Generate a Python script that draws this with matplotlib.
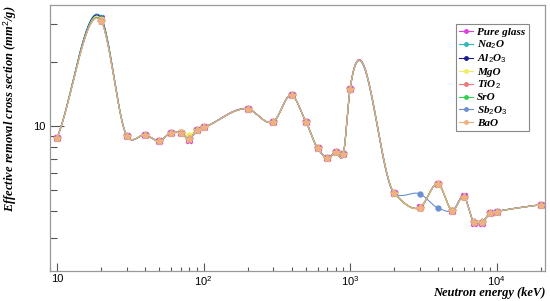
import numpy as np
import matplotlib
matplotlib.use('Agg')
import matplotlib.pyplot as plt
from matplotlib.ticker import LogLocator, FuncFormatter, NullFormatter

plt.rcParams['font.family'] = ['Liberation Sans', 'DejaVu Sans']
plt.rcParams['mathtext.fontset'] = 'custom'
plt.rcParams['mathtext.it'] = 'Liberation Serif:bold:italic'
plt.rcParams['mathtext.rm'] = 'Liberation Sans'

# ---------- Data ----------
energy = [10, 20, 30, 40, 50, 60, 70, 80, 90, 100, 200, 300, 400, 500, 600, 700, 800, 900,
          1000, 2000, 3000, 4000, 5000, 6000, 7000, 8000, 9000, 10000, 20000]

pure_glass = [8.80, 31.9, 8.96, 9.07, 8.50, 9.28, 9.30, 8.62, 9.56, 9.84, 12.05, 10.45, 13.98, 10.47, 7.86, 7.05,
              7.52, 7.38, 14.90, 4.85, 4.15, 5.36, 4.01, 4.68, 3.52, 3.52, 3.90, 3.97, 4.28]
na2o = [8.82, 32.3, 8.99, 9.09, 8.52, 9.30, 9.31, 8.68, 9.58, 9.85, 12.02, 10.46, 13.95, 10.48, 7.87, 7.08,
        7.54, 7.40, 14.80, 4.84, 4.14, 5.34, 4.02, 4.67, 3.53, 3.54, 3.91, 3.98, 4.27]
al2o3 = [8.81, 32.0, 8.97, 9.08, 8.51, 9.29, 9.30, 8.66, 9.57, 9.84, 12.00, 10.47, 13.96, 10.46, 7.86, 7.06,
         7.53, 7.39, 14.86, 4.84, 4.14, 5.35, 4.01, 4.67, 3.53, 3.53, 3.90, 3.97, 4.27]
mgo = [8.82, 31.6, 8.98, 9.08, 8.52, 9.31, 9.32, 9.08, 9.60, 9.86, 11.98, 10.48, 13.95, 10.49, 7.88, 7.07,
       7.54, 7.40, 14.84, 4.84, 4.14, 5.35, 4.02, 4.67, 3.54, 3.54, 3.91, 3.97, 4.27]
tio2 = [8.81, 31.0, 8.98, 9.08, 8.51, 9.30, 9.30, 8.70, 9.58, 9.84, 12.00, 10.47, 13.97, 10.47, 7.86, 7.06,
        7.53, 7.39, 14.85, 4.84, 4.14, 5.35, 4.01, 4.67, 3.53, 3.53, 3.90, 3.97, 4.27]
sro = [8.81, 31.2, 8.98, 9.08, 8.51, 9.30, 9.30, 8.68, 9.58, 9.84, 12.00, 10.46, 13.96, 10.47, 7.88, 7.10,
       7.58, 7.44, 14.85, 4.84, 4.14, 5.35, 4.01, 4.67, 3.53, 3.56, 3.90, 3.97, 4.27]
sb2o3 = [8.81, 31.1, 8.98, 9.08, 8.51, 9.30, 9.30, 8.70, 9.58, 9.84, 12.00, 10.47, 13.97, 10.47, 7.86, 7.06,
         7.53, 7.39, 14.85, 4.84, 4.80, 4.12, 4.01, 4.67, 3.53, 3.53, 3.90, 3.97, 4.27]
bao = [8.81, 30.9, 8.98, 9.08, 8.51, 9.30, 9.30, 8.70, 9.58, 9.84, 12.00, 10.47, 13.97, 10.47, 7.86, 7.06,
       7.53, 7.39, 14.85, 4.84, 4.14, 5.35, 4.01, 4.67, 3.53, 3.53, 3.90, 3.97, 4.27]

labels = ['Pure glass', 'Na$_\\mathit{2}$O', 'Al$_\\mathit{2}$O$_\\mathit{3}$', 'MgO',
          'TiO$_\\mathit{2}$', 'SrO', 'Sb$_\\mathit{2}$O$_\\mathit{3}$', 'BaO']
series = [pure_glass, na2o, al2o3, mgo, tio2, sro, sb2o3, bao]
colors = ['#e23ee0', '#2fb8b8', '#1a1a90', '#eeee60', '#f07878', '#30d050', '#6a90d0', '#f0b080']
markers = ['X', 'o', 'o', 'o', '*', 'o', 'o', '*']
msizes = [4.5, 3, 3, 3.5, 6, 3, 3.5, 6]


# ---------- Smooth curve: Hermite spline in log-log space ----------
def smooth(xv, yv, npts=40, tension=0.85):
    x = np.log10(xv)
    y = np.log10(yv)
    h = np.diff(x)
    s = np.diff(y) / h
    d = np.empty(len(x))
    d[0], d[-1] = s[0], s[-1]
    d[1:-1] = (h[1:] * s[:-1] + h[:-1] * s[1:]) / (h[:-1] + h[1:])
    d *= tension
    cx, cy = [], []
    t = np.linspace(0, 1, npts)
    for i in range(len(h)):
        h00 = 2 * t**3 - 3 * t**2 + 1
        h10 = t**3 - 2 * t**2 + t
        h01 = -2 * t**3 + 3 * t**2
        h11 = t**3 - t**2
        cx.append(x[i] + t * h[i])
        cy.append(h00 * y[i] + h10 * h[i] * d[i] + h01 * y[i + 1] + h11 * h[i] * d[i + 1])
    return 10 ** np.concatenate(cx), 10 ** np.concatenate(cy)


# ---------- Plot ----------
fig = plt.figure(figsize=(5.5, 3.01), dpi=100)
ax = fig.add_axes([0.0909, 0.0997, 0.9, 0.8837])

for vals, lab, col, mk, ms in zip(series, labels, colors, markers, msizes):
    cx, cy = smooth(energy, vals)
    ax.plot(cx, cy, color=col, lw=0.8)
    ax.plot(energy, vals, linestyle='none', marker=mk, ms=ms, color=col, mec=col)
    ax.plot([], [], color=col, lw=0.8, marker='o', ms=2.5, label=lab)

ax.set_xscale('log')
ax.set_yscale('log')
ax.set_xlim(8.96, 21400)
ax.set_ylim(2.09, 36.9)

ax.xaxis.set_major_locator(LogLocator(base=10, numticks=10))
ax.xaxis.set_minor_locator(LogLocator(base=10, subs=np.arange(2, 10), numticks=20))
ax.xaxis.set_major_formatter(FuncFormatter(lambda v, p: '10' if abs(v - 10) < 1e-6
                                           else '$\\mathdefault{10^{%d}}$' % round(np.log10(v))))
ax.xaxis.set_minor_formatter(NullFormatter())
ax.yaxis.set_major_locator(LogLocator(base=10, numticks=10))
ax.yaxis.set_minor_locator(LogLocator(base=10, subs=np.arange(2, 10), numticks=20))
ax.yaxis.set_major_formatter(FuncFormatter(lambda v, p: '%d' % v))
ax.yaxis.set_minor_formatter(NullFormatter())

ax.tick_params(axis='both', which='both', direction='in', colors='#555555', labelcolor='black',
               labelsize=8, top=False, right=False)
ax.tick_params(axis='y', which='major', length=10, width=0.8)
ax.tick_params(axis='y', which='minor', length=5, width=0.8)
ax.tick_params(axis='x', which='major', length=6, width=0.8, pad=2)
ax.tick_params(axis='x', which='minor', length=3, width=0.8)
for s in ax.spines.values():
    s.set_color('#999999')
    s.set_linewidth(0.9)

title_font = dict(family='Liberation Serif', weight='bold', style='italic', size=9)
ax.set_xlabel('Neutron energy (keV)', loc='right', **title_font)
ax.xaxis.set_label_coords(1.0, -0.06)
ax.set_ylabel('Effective removal cross section (mm$^\\mathit{2}$/g)', loc='top', **title_font)
ax.yaxis.set_label_coords(-0.062, 1.0)

leg = ax.legend(loc='upper left', bbox_to_anchor=(0.82, 0.9286), fancybox=False, borderaxespad=0,
                prop=dict(family='Liberation Serif', weight='bold', style='italic', size=8),
                handlelength=1.2, handletextpad=0.4, labelspacing=0.15, borderpad=0.3,
                framealpha=1, edgecolor='#888888')
leg.get_frame().set_linewidth(0.8)

fig.savefig('out.png', dpi=100)
